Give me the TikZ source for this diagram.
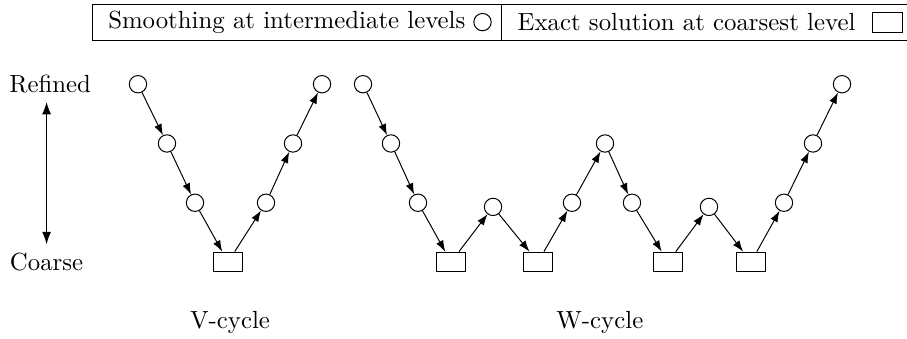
\documentclass[tikz,border=0pt]{standalone}
\usetikzlibrary{calc, positioning, arrows.meta}

\begin{document}
\begin{tikzpicture}[
    smoothnode/.style={draw, circle, minimum size=7pt, inner sep=0pt},
    coarsenode/.style={draw, rectangle, minimum width=12pt, minimum height=8pt, inner sep=0pt},
    >={Latex[length=4.5pt, width=3.2pt]}
]

% 1. Parameters
\pgfmathsetmacro{\Lev}{0.84}   % distance between two grid levels
\pgfmathsetmacro{\Dip}{0.93}   % level of the circles between two coarse solves

\useasboundingbox (0,-1.077) rectangle (12.852,3.713);

% 2. Level axis
\node (refined) at (0.71, 3*\Lev) {Refined};
\node (coarse) at (0.66, 0) {Coarse};
\draw[{Latex[length=5pt, width=3.6pt]}-{Latex[length=5pt, width=3.6pt]}] (coarse.north |- refined.south) -- (coarse.north);

% 3. V-cycle
\foreach \name/\x/\l in {v1/1.955/3, v2/2.366/2, v3/2.763/1, v5/3.769/1, v6/4.152/2, v7/4.563/3}
    \node[smoothnode] (\name) at (\x, \l*\Lev) {};
\node[coarsenode] (v4) at (3.231, 0) {};
\foreach \i [evaluate=\i as \j using int(\i+1)] in {1,...,6}
    \draw[->] (v\i) -- (v\j);
\node (vlabel) at (3.26, -0.85) {V-cycle};

% 4. W-cycle
\foreach \name/\x/\l in {w1/5.144/3, w2/5.540/2, w3/5.923/1, w5/6.986/\Dip, w7/8.105/1,
                         w8/8.573/2, w9/8.955/1, w11/10.046/\Dip, w13/11.109/1, w14/11.520/2, w15/11.931/3}
    \node[smoothnode] (\name) at (\x, \l*\Lev) {};
\foreach \name/\x in {w4/6.391, w6/7.623, w10/9.466, w12/10.642}
    \node[coarsenode] (\name) at (\x, 0) {};
\foreach \i [evaluate=\i as \j using int(\i+1)] in {1,...,14}
    \draw[->] (w\i) -- (w\j);
\node (wlabel) at (8.50, -0.85) {W-cycle};

% 5. Legend
\node[smoothnode] (legcirc) at (6.837, 3.40) {};
\node[left=3pt of legcirc, inner sep=0pt] (legsmooth) {Smoothing at intermediate levels};
\coordinate (legdiv) at (7.10, 3.40);
\node[right=6.5pt of legdiv, inner sep=0pt] (legexact) {Exact solution at coarsest level};
\node[coarsenode] (legsq) at (12.58, 3.40) {};
\coordinate (legNW) at ($(legsmooth.west)+(-6pt,0.256)$);
\coordinate (legSE) at (12.87, 3.146);
\draw (legNW) rectangle (legSE);
\draw (legdiv |- legNW) -- (legdiv |- legSE);

\end{tikzpicture}
\end{document}
